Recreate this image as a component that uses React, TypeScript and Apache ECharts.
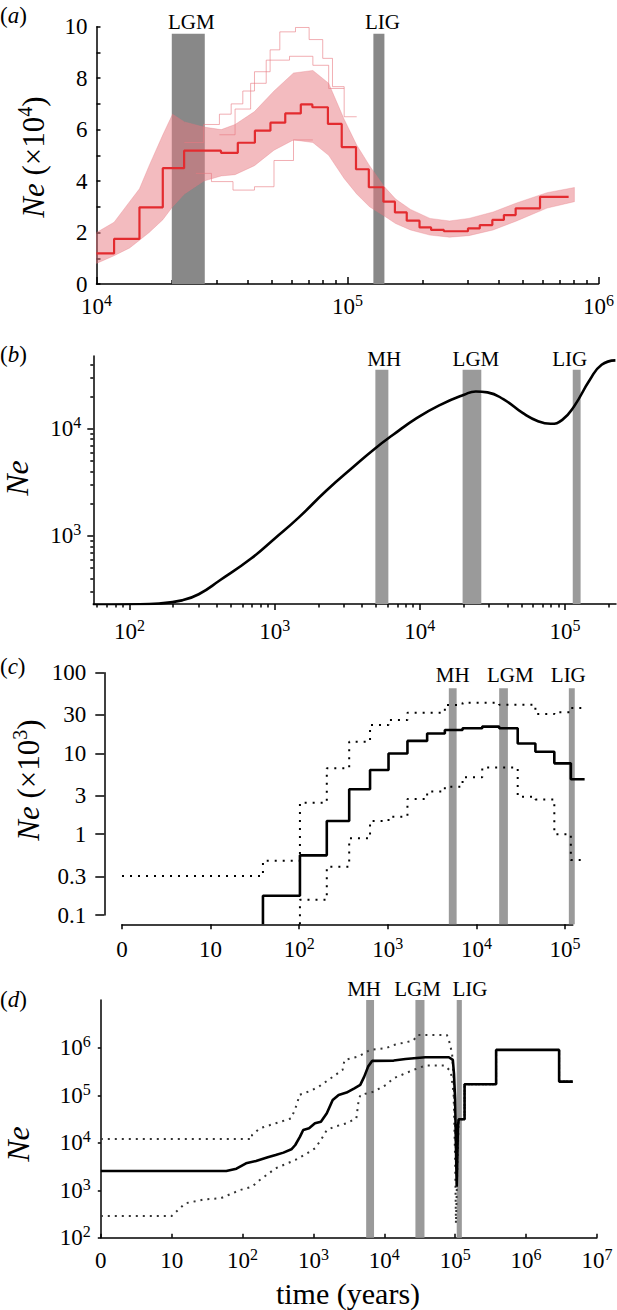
import React, { useEffect, useRef } from 'react';
import * as echarts from 'echarts';

const FONT = 'Liberation Serif, serif';

// ---------------- (a) PSMC, Ne in units of 10^4 ----------------
const A_STEP_YEARS = [10000, 11750, 14830, 18370, 22340, 31330, 36560, 42760, 49320, 56490, 65160, 72440, 83560, 94840, 108100, 121600, 139000, 154500, 172200, 193600, 215300, 242100, 302000, 336500, 377600, 419800, 467700, 584800, 760300];
const A_STEP_NE = [1.19, 1.75, 2.98, 4.5, 5.18, 5.1, 5.49, 5.96, 6.27, 6.63, 6.98, 6.87, 6.22, 5.32, 4.46, 3.76, 3.2, 2.78, 2.46, 2.2, 2.1, 2.05, 2.16, 2.29, 2.49, 2.68, 2.94, 3.39];
const A_BAND_YEARS = [10000, 11750, 13550, 14830, 16210, 18380, 20090, 22390, 26730, 31400, 35650, 42600, 50950, 60940, 72780, 84140, 96980, 108800, 122400, 139700, 155500, 178200, 213100, 254900, 304600, 380300, 471700, 623700, 801700];
const A_BAND_LOW = [0.8, 1.1, 1.4, 1.7, 2.0, 2.5, 3.0, 3.5, 4.0, 4.2, 4.25, 4.6, 5.2, 5.6, 5.5, 5.0, 4.1, 3.5, 3.0, 2.65, 2.35, 2.1, 1.9, 1.82, 1.88, 2.1, 2.45, 2.95, 3.2];
const A_BAND_HIGH = [2.0, 2.4, 3.2, 3.7, 4.6, 5.8, 6.6, 6.3, 6.1, 6.0, 6.2, 6.7, 7.5, 8.2, 8.3, 7.8, 6.4, 5.4, 4.6, 3.8, 3.3, 2.9, 2.55, 2.45, 2.55, 2.8, 3.15, 3.55, 3.75];
const A_BOOT1_YEARS = [22390, 26730, 30880, 34400, 38270, 42600, 49170, 53750, 62060, 70330, 79670, 87130, 96980, 108800];
const A_BOOT1_NE = [5.5, 6.2, 6.6, 7.0, 7.5, 8.25, 9.1, 9.8, 9.97, 9.5, 8.77, 7.67, 6.5];
const A_BOOT2_YEARS = [30880, 35650, 41120, 47440, 58750, 72780, 84140, 96980];
const A_BOOT2_NE = [5.8, 6.8, 7.8, 8.7, 8.85, 8.5, 7.6];
const A_BOOT3_YEARS = [24890, 28710, 34980, 42600, 50950, 60940, 72780];
const A_BOOT3_NE = [4.3, 3.98, 3.65, 3.78, 4.8, 5.6];
const A_X_TICKS = [1e4, 1e5, 1e6];
const A_Y_TICKS = [0, 2, 4, 6, 8, 10];
const A_Y_MINOR = [0, 1, 2, 3, 4, 5, 6, 7, 8, 9, 10];
const A_PERIODS = [
  { name: 'LGM', from: 19950, to: 27000 },
  { name: 'LIG', from: 126800, to: 140300 },
];

// ---------------- (b) smooth Ne curve ----------------
const B_YEARS = [56, 100, 160, 230, 300, 420, 692, 1007, 1462, 2265, 3508, 4943, 6546, 9506, 13840, 20140, 24270, 29240, 37580, 51290, 65770, 79430, 95720, 115300, 148300, 178600, 222300];
const B_NE = [226, 229, 234, 250, 285, 385, 618, 951, 1480, 2640, 4446, 6592, 8790, 12590, 16750, 20800, 22340, 21880, 18920, 14000, 11720, 11140, 12130, 16180, 28710, 39630, 43550];
const B_X_TICKS = [1e2, 1e3, 1e4, 1e5];
const B_Y_TICKS = [1e3, 1e4];
const B_PERIODS = [
  { name: 'MH', from: 4940, to: 6070 },
  { name: 'LGM', from: 19700, to: 26500 },
  { name: 'LIG', from: 113000, to: 128000 },
];

// ---------------- (c) step Ne (x10^3) with bounds ----------------
const C_SOLID_YEARS = [39, 102, 205, 367, 631, 1020, 1668, 2783, 4410, 6990, 11660, 18100, 29300, 46400, 75900, 116600, 166800];
const C_SOLID_NE = [0.173, 0.548, 1.46, 3.6, 6.24, 10.0, 14.3, 17.7, 19.5, 20.5, 21.5, 20.5, 13.3, 10.5, 7.55, 4.79];
const C_UP_YEARS = [0, 39, 102, 205, 367, 631, 1020, 1668, 4410, 6990, 18100, 46400, 75900, 116600, 166800];
const C_UP_NE = [0.304, 0.47, 2.46, 6.55, 14.0, 22.5, 26.0, 32.0, 39.8, 42.6, 40.0, 30.8, 32.5, 36.5];
const C_LOW_YEARS = [102, 205, 367, 631, 1020, 1668, 2783, 4410, 6990, 11660, 29300, 46400, 75900, 116600, 166800];
const C_LOW_NE = [0.154, 0.396, 0.89, 1.46, 1.65, 2.73, 3.37, 3.88, 5.06, 6.7, 2.92, 2.7, 1.0, 0.48];
const C_X_TICKS = [0, 10, 1e2, 1e3, 1e4, 1e5];
const C_Y_TICKS = [0.1, 0.3, 1, 3, 10, 30, 100];
const C_PERIODS = [
  { name: 'MH', from: 4890, to: 5990 },
  { name: 'LGM', from: 18100, to: 22700 },
  { name: 'LIG', from: 110700, to: 129100 },
];

// ---------------- (d) skyline Ne with bounds ----------------
const D_SOLID_YEARS = [0, 59, 82, 112, 155, 227, 293, 378, 489, 555, 647, 718, 869, 1052, 1276, 1545, 1871, 2270, 2931, 3784, 4581, 5212, 5916, 6730, 13580, 19950, 37840, 81470, 92680, 96160, 100000, 102600, 105200, 109400, 112200, 135800, 135800, 378400, 378400, 2931000, 2931000, 4581000];
const D_SOLID_NE = [2550, 2550, 2850, 3700, 4140, 4940, 5530, 6210, 7290, 8990, 13490, 18660, 20230, 25760, 27930, 41880, 80000, 102100, 114300, 140900, 166000, 248300, 403600, 532100, 540800, 586100, 635300, 635300, 558500, 292400, 80000, 8300, 1190, 21930, 31330, 31330, 171400, 171400, 907800, 907800, 195000, 195000];
const D_UP_YEARS = [0, 136, 136, 175, 293, 489, 592, 631, 927, 1197, 1754, 2576, 2748, 4295, 6310, 10520, 13580, 25760, 29310, 76380, 81470, 90370, 95060, 100000, 105200, 109400, 112200, 135800, 135800, 378400, 378400, 2931000, 2931000, 4581000];
const D_UP_NE = [12050, 12050, 14620, 20230, 25760, 32890, 68080, 102100, 125900, 153100, 229100, 343600, 558500, 656200, 907800, 984000, 1156000, 1429000, 1879000, 1879000, 1476000, 772700, 248300, 21930, 1932, 21930, 31330, 31330, 171400, 171400, 907800, 907800, 195000, 195000];
const D_LOW_YEARS = [0, 10, 15.5, 29.3, 48.9, 63.1, 92.7, 136, 175, 293, 378, 555, 815, 1052, 1276, 1545, 1995, 2931, 4036, 4295, 4581, 7178, 10520, 13580, 25760, 37840, 71780, 86900, 95060, 100000, 102600, 107900, 112200, 135800, 135800, 378400, 378400, 2931000, 2931000, 4581000];
const D_LOW_NE = [286, 286, 530, 643, 676, 794, 1012, 1191, 1644, 2897, 3412, 4345, 6012, 7656, 11480, 18660, 21930, 25760, 32890, 68080, 102100, 119900, 166000, 229100, 343600, 423600, 423600, 317000, 110700, 4345, 200, 4345, 31330, 31330, 171400, 171400, 907800, 907800, 195000, 195000];
const D_X_TICKS = [0, 10, 1e2, 1e3, 1e4, 1e5, 1e6, 1e7];
const D_Y_TICKS = [1e2, 1e3, 1e4, 1e5, 1e6];
const D_PERIODS = [
  { name: 'MH', from: 5550, to: 7170 },
  { name: 'LGM', from: 27500, to: 36900 },
  { name: 'LIG', from: 105200, to: 124300 },
];

// label nudges (style, not data)
const A_LABEL_DX = [3, 3.5];
const B_LABEL_DX = [2.4, 4, -7];
const C_LABEL_DX = [0, 6.7, -3.5];
const D_LABEL_DX = [-6, -2.4, 10.6];

// ---------------- helpers ----------------
const lg = (t: number) => (t <= 1 ? 0 : Math.log10(t));
const stepPts = (years: number[], vals: number[], floor?: number) => {
  const pts = years.map((t, i) => [lg(t), vals[Math.min(i, vals.length - 1)]]);
  if (floor !== undefined) pts.unshift([lg(years[0]), floor]);
  return pts;
};
const logPts = (years: number[], vals: number[]) => years.map((t, i) => [lg(t), Math.log10(vals[i])]);
const minorLogs = (lo: number, hi: number) => {
  const out: number[] = [];
  for (let n = Math.floor(lo); n <= Math.ceil(hi); n++) {
    for (let k = 2; k <= 9; k++) {
      const v = n + Math.log10(k);
      if (v > lo && v < hi) out.push(v);
    }
  }
  return out;
};

const AX = { color: '#000', width: 1.5 };
const SUP: any = {
  b: { fontFamily: FONT, fontSize: 23, lineHeight: 28, color: '#000' },
  s: { fontFamily: FONT, fontSize: 16, lineHeight: 16, verticalAlign: 'top', color: '#000' },
};
const powLabel = (v: number) => `{b|10}{s|${Math.round(v)}}`;
const timeLabel = (v: number) => {
  const n = Math.round(v);
  if (n === 0) return '{b|0}';
  if (n === 1) return '{b|10}';
  return `{b|10}{s|${n}}`;
};

const bands = (periods: any[], yMin: number, yTop: number, color: string, distance: number, dx: number[]) => ({
  silent: true,
  itemStyle: { color, opacity: 1 },
  label: { show: true, position: 'top', distance, fontFamily: FONT, fontSize: 21, color: '#000' },
  data: periods.map((p, i) => [
    { name: p.name, xAxis: lg(p.from), yAxis: yMin, label: { offset: [dx[i] || 0, 0] } },
    { xAxis: lg(p.to), yAxis: yTop },
  ]),
});

const hiddenAxis = (gridIndex: number, min: number, max: number) => ({ type: 'value', gridIndex, min, max, show: false });

const valAxis = (o: any) => ({
  type: 'value',
  splitLine: { show: false },
  ...o,
  axisLine: { onZero: false, ...(o.axisLine || {}) },
});

function buildOption() {
  const A_X_MAJ = A_X_TICKS.map(lg);
  const B_X_MAJ = B_X_TICKS.map(lg);
  const B_Y_MAJ = B_Y_TICKS.map(lg);
  const C_X = C_X_TICKS.map(lg);
  const C_Y = C_Y_TICKS.map((v) => Math.log10(v));
  const D_X = D_X_TICKS.map(lg);
  const D_Y = D_Y_TICKS.map(lg);

  const B_XMIN = 1.751, B_XMAX = 5.351, B_YMIN = 2.364, B_YMAX = 4.68;
  const C_YMIN = -1.115;

  const xAxis = [
    valAxis({
      gridIndex: 0, min: 4, max: 6, position: 'bottom',
      axisLine: { show: true, lineStyle: AX },
      axisTick: { show: true, inside: true, length: 7, lineStyle: AX, customValues: A_X_MAJ },
      axisLabel: { show: true, margin: 8, customValues: A_X_MAJ, formatter: powLabel, rich: SUP },
    }),
    valAxis({
      gridIndex: 0, min: 4, max: 6, position: 'bottom',
      axisLine: { show: false },
      axisTick: { show: true, inside: true, length: 4, lineStyle: AX, customValues: minorLogs(4, 6) },
      axisLabel: { show: false },
    }),
    valAxis({
      gridIndex: 1, min: B_XMIN, max: B_XMAX, position: 'bottom',
      axisLine: { show: true, lineStyle: AX },
      axisTick: { show: true, inside: false, length: 6, lineStyle: AX, customValues: B_X_MAJ },
      axisLabel: { show: true, margin: 13, customValues: B_X_MAJ, formatter: powLabel, rich: SUP },
    }),
    valAxis({
      gridIndex: 1, min: B_XMIN, max: B_XMAX, position: 'bottom',
      axisLine: { show: false },
      axisTick: { show: true, inside: false, length: 3.5, lineStyle: AX, customValues: minorLogs(B_XMIN, B_XMAX) },
      axisLabel: { show: false },
    }),
    hiddenAxis(2, 0, 5.222),
    valAxis({
      gridIndex: 3, min: 0, max: 5.088, position: 'bottom',
      axisLine: { show: true, lineStyle: AX },
      axisTick: { show: true, inside: false, length: 5, lineStyle: AX, customValues: C_X },
      axisLabel: { show: true, margin: 11, customValues: C_X, formatter: timeLabel, rich: SUP },
    }),
    hiddenAxis(4, 0, 1),
    valAxis({
      gridIndex: 5, min: 0, max: 7, position: 'bottom',
      axisLine: { show: true, lineStyle: AX },
      axisTick: { show: true, inside: true, length: 4, lineStyle: AX, customValues: D_X },
      axisLabel: { show: true, margin: 9, customValues: D_X, formatter: timeLabel, rich: SUP },
    }),
  ];

  const yAxis = [
    valAxis({
      gridIndex: 0, min: 0, max: 10, position: 'left',
      axisLine: { show: true, lineStyle: AX },
      axisTick: { show: true, inside: true, length: 4, lineStyle: AX, customValues: A_Y_MINOR },
      axisLabel: { show: true, margin: 9, customValues: A_Y_TICKS, fontFamily: FONT, fontSize: 23, color: '#000' },
    }),
    valAxis({
      gridIndex: 1, min: B_YMIN, max: B_YMAX, position: 'left',
      axisLine: { show: true, lineStyle: AX },
      axisTick: { show: true, inside: false, length: 6, lineStyle: AX, customValues: B_Y_MAJ },
      axisLabel: { show: true, margin: 12, customValues: B_Y_MAJ, formatter: powLabel, rich: SUP },
    }),
    valAxis({
      gridIndex: 1, min: B_YMIN, max: B_YMAX, position: 'left',
      axisLine: { show: false },
      axisTick: { show: true, inside: false, length: 3, lineStyle: AX, customValues: minorLogs(B_YMIN, B_YMAX) },
      axisLabel: { show: false },
    }),
    hiddenAxis(2, C_YMIN, 2),
    hiddenAxis(3, 0, 1),
    valAxis({
      gridIndex: 4, min: -1, max: 2, position: 'left',
      axisLine: { show: true, lineStyle: AX },
      axisTick: { show: true, inside: false, length: 9, lineStyle: AX, customValues: C_Y },
      axisLabel: {
        show: true, margin: 18, customValues: C_Y, fontFamily: FONT, fontSize: 23, color: '#000',
        formatter: (v: number) => String(+Math.pow(10, v).toPrecision(2)),
      },
    }),
    valAxis({
      gridIndex: 5, min: 2, max: 7.01, position: 'left',
      axisLine: { show: true, lineStyle: AX },
      axisTick: { show: true, inside: false, length: 3, lineStyle: AX, customValues: D_Y },
      axisLabel: { show: true, margin: 10, customValues: D_Y, formatter: powLabel, rich: SUP },
    }),
  ];

  const none = { symbol: 'none', showSymbol: false, silent: true, animation: false };
  const holder = (xi: number, yi: number, x: number, y: number, markArea: any) => ({
    type: 'line', xAxisIndex: xi, yAxisIndex: yi, data: [[x, y]], ...none,
    lineStyle: { opacity: 0 }, markArea, z: 1,
  });

  const bootStyle = { color: 'rgba(232,120,128,0.6)', width: 1 };
  const cLog = (v: number[]) => v.map((x) => Math.log10(x));
  const dotC = { color: '#000', width: 2, type: [2, 6] };
  const dotD = { color: '#333', width: 2, type: [2, 5] };

  const bandSeries = {
    type: 'custom', xAxisIndex: 0, yAxisIndex: 0, z: 2, silent: true, clip: true,
    data: A_BAND_YEARS.map((t, i) => [lg(t), A_BAND_LOW[i], A_BAND_HIGH[i]]),
    encode: { x: 0, y: [1, 2] },
    renderItem: (params: any, api: any) => {
      if (params.dataIndex !== 0) return null;
      const top = A_BAND_YEARS.map((t, i) => api.coord([lg(t), A_BAND_HIGH[i]]));
      const bot = A_BAND_YEARS.map((t, i) => api.coord([lg(t), A_BAND_LOW[i]])).reverse();
      return {
        type: 'polygon',
        shape: { points: top.concat(bot) },
        style: { fill: '#e8787f', opacity: 0.5, stroke: 'rgba(232,120,128,0.6)', lineWidth: 1 },
      };
    },
  };

  const series: any[] = [
    holder(0, 0, 4, 0, bands(A_PERIODS, 0, 9.73, '#888888', 1, A_LABEL_DX)),
    bandSeries,
    { type: 'line', xAxisIndex: 0, yAxisIndex: 0, step: 'end', data: stepPts(A_BOOT1_YEARS, A_BOOT1_NE), ...none, lineStyle: bootStyle, z: 3 },
    { type: 'line', xAxisIndex: 0, yAxisIndex: 0, step: 'end', data: stepPts(A_BOOT2_YEARS, A_BOOT2_NE), ...none, lineStyle: bootStyle, z: 3 },
    { type: 'line', xAxisIndex: 0, yAxisIndex: 0, step: 'end', data: stepPts(A_BOOT3_YEARS, A_BOOT3_NE), ...none, lineStyle: bootStyle, z: 3 },
    {
      type: 'line', xAxisIndex: 0, yAxisIndex: 0, step: 'end', data: stepPts(A_STEP_YEARS, A_STEP_NE), ...none,
      lineStyle: { color: '#e32b2f', width: 2.2 }, z: 4,
    },
    holder(2, 1, B_XMIN, B_YMIN, bands(B_PERIODS, B_YMIN, 4.551, '#9a9a9a', 0, B_LABEL_DX)),
    {
      type: 'line', xAxisIndex: 2, yAxisIndex: 1, smooth: 0.5, data: logPts(B_YEARS, B_NE), ...none,
      lineStyle: { color: '#000', width: 2.6 }, z: 3,
    },
    holder(4, 3, 0, C_YMIN, bands(C_PERIODS, C_YMIN, 1.807, '#9a9a9a', 2.5, C_LABEL_DX)),
    { type: 'line', xAxisIndex: 4, yAxisIndex: 3, step: 'end', data: stepPts(C_UP_YEARS, cLog(C_UP_NE)), ...none, lineStyle: dotC, z: 3 },
    { type: 'line', xAxisIndex: 4, yAxisIndex: 3, step: 'end', data: stepPts(C_LOW_YEARS, cLog(C_LOW_NE), C_YMIN), ...none, lineStyle: dotC, z: 3 },
    {
      type: 'line', xAxisIndex: 4, yAxisIndex: 3, step: 'end', data: stepPts(C_SOLID_YEARS, cLog(C_SOLID_NE), C_YMIN), ...none,
      lineStyle: { color: '#000', width: 2.6 }, z: 4,
    },
    holder(7, 6, 0, 2, bands(D_PERIODS, 2, 7.01, '#9a9a9a', 1, D_LABEL_DX)),
    { type: 'line', xAxisIndex: 7, yAxisIndex: 6, data: logPts(D_UP_YEARS, D_UP_NE), ...none, lineStyle: dotD, z: 3 },
    { type: 'line', xAxisIndex: 7, yAxisIndex: 6, data: logPts(D_LOW_YEARS, D_LOW_NE), ...none, lineStyle: dotD, z: 3 },
    {
      type: 'line', xAxisIndex: 7, yAxisIndex: 6, data: logPts(D_SOLID_YEARS, D_SOLID_NE), ...none,
      lineStyle: { color: '#000', width: 2.6 }, z: 4,
    },
  ];

  const txt = (x: number, y: number, text: string, size: number, align: string, rotation = 0, rich?: any) => ({
    type: 'text', x, y, rotation, silent: true,
    style: {
      text, fontFamily: FONT, fontSize: size, fill: '#000',
      textAlign: align, textVerticalAlign: 'middle', align, verticalAlign: 'middle',
      rich,
    },
  });
  const italicRich = (size: number, supSize: number) => ({
    i: { fontStyle: 'italic', fontFamily: FONT, fontSize: size, fill: '#000', color: '#000', lineHeight: size + 6 },
    s: { fontFamily: FONT, fontSize: supSize, fill: '#000', color: '#000', lineHeight: supSize, verticalAlign: 'top' },
    n: { fontFamily: FONT, fontSize: size, fill: '#000', color: '#000', lineHeight: size + 6 },
  });
  const R = Math.PI / 2;

  const graphic = [
    txt(0, 15, '{n|(}{i|a}{n|)}', 23, 'left', 0, italicRich(23, 15)),
    txt(0, 354, '{n|(}{i|b}{n|)}', 23, 'left', 0, italicRich(23, 15)),
    txt(0, 666, '{n|(}{i|c}{n|)}', 23, 'left', 0, italicRich(23, 15)),
    txt(0, 999, '{n|(}{i|d}{n|)}', 23, 'left', 0, italicRich(23, 15)),
    txt(33, 157, '{i|Ne}{n| (×10}{s|4}{n|)}', 31, 'center', R, italicRich(31, 20)),
    txt(17, 478, '{i|Ne}', 32, 'center', R, italicRich(32, 20)),
    txt(28, 780, '{i|Ne}{n| (×10}{s|3}{n|)}', 31, 'center', R, italicRich(31, 20)),
    txt(18, 1144, '{i|Ne}', 32, 'center', R, italicRich(32, 20)),
    txt(348, 1293, 'time (years)', 30, 'center'),
  ];

  return {
    animation: false,
    backgroundColor: '#ffffff',
    textStyle: { fontFamily: FONT },
    grid: [
      { left: 96.5, top: 26.7, width: 506.5, height: 257.3 },
      { left: 93.3, top: 356, width: 522.7, height: 248 },
      { left: 122, top: 672.7, width: 462.6, height: 251.6 },
      { left: 122, top: 672.7, width: 450.8, height: 251.6 },
      { left: 104.3, top: 672.7, width: 468.5, height: 242.3 },
      { left: 100.8, top: 1000, width: 496.1, height: 237.7 },
    ],
    xAxis,
    yAxis,
    series,
    graphic,
  };
}

export default function App() {
  const ref = useRef<HTMLDivElement>(null);
  useEffect(() => {
    if (!ref.current) return;
    const chart = echarts.init(ref.current, undefined, { renderer: 'svg' });
    chart.setOption(buildOption() as any);
    return () => chart.dispose();
  }, []);
  return (
    <div
      ref={ref}
      style={{ position: 'absolute', left: 0, top: 0, width: 617, height: 1310, background: '#fff' }}
    />
  );
}
